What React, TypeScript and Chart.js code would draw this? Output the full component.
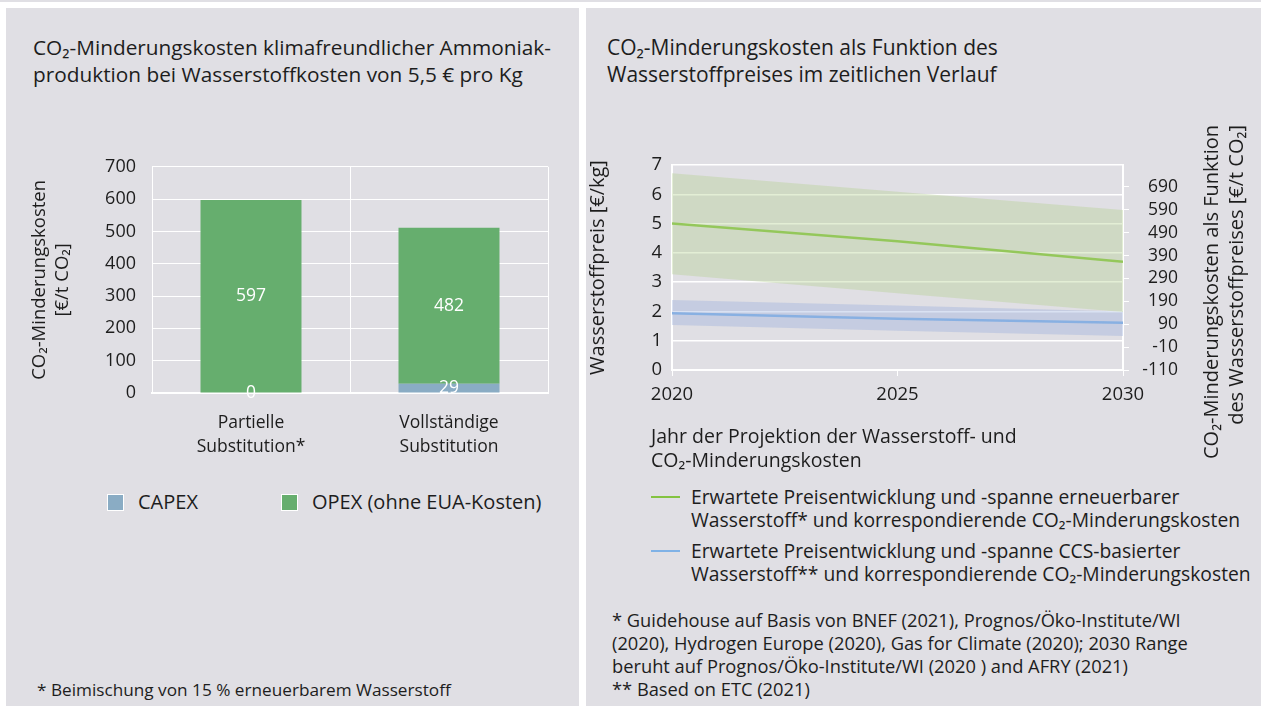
import React, { useEffect, useRef } from "react";
import { Chart, registerables } from "chart.js";

Chart.register(...registerables);

const FONT = "'Open Sans', sans-serif";
const TEXT = "#1d1d1d";
const PANEL = "#e0dfe4";

// ---------- Left chart data ----------
const barCategories = [["Partielle", "Substitution*"], ["Vollständige", "Substitution"]];
const capexValues = [0, 29];
const opexValues = [597, 482];
const barSeriesNames = ["CAPEX", "OPEX (ohne EUA-Kosten)"];
const barColors = ["#8aacc4", "#66ae6e"];
const barAxisTitle = ["CO₂-Minderungskosten", "[€/t CO₂]"];

// ---------- Right chart data ----------
const years = [2020, 2025, 2030];
const greenUpper = [6.72, 6.09, 5.46];
const greenCentral = [5.0, 4.4, 3.7];
const greenLower = [3.27, 2.62, 1.98];
const blueUpper = [2.39, 2.2, 2.0];
const blueCentral = [1.94, 1.75, 1.61];
const blueLower = [1.54, 1.34, 1.16];
const costTicks = [-110, -10, 90, 190, 290, 390, 490, 590, 690];
const costMin = -110;
const costMax = 786;
const lineSeriesNames = [
  ["Erwartete Preisentwicklung und -spanne erneuerbarer", "Wasserstoff* und korrespondierende CO₂-Minderungskosten"],
  ["Erwartete Preisentwicklung und -spanne CCS-basierter", "Wasserstoff** und korrespondierende CO₂-Minderungskosten"],
];
const lineColors = ["#84c341", "#80b2e6"];
const bandColors = ["rgba(178,208,138,0.36)", "rgba(150,172,218,0.36)"];
const priceAxisTitle = "Wasserstoffpreis [€/kg]";
const costAxisTitle = ["CO₂-Minderungskosten als Funktion", "des Wasserstoffpreises [€/t CO₂]"];
const yearAxisTitle = ["Jahr der Projektion der Wasserstoff- und", "CO₂-Minderungskosten"];

const pts = (ys: number[]) => ys.map((y, i) => ({ x: years[i], y }));

function BarChart() {
  const ref = useRef<HTMLCanvasElement>(null);
  useEffect(() => {
    const labelPlugin = {
      id: "barLabels",
      afterDatasetsDraw(chart: any) {
        const ctx = chart.ctx;
        ctx.save();
        ctx.font = `17.5px ${FONT}`;
        ctx.fillStyle = "#ffffff";
        ctx.textAlign = "center";
        ctx.textBaseline = "middle";
        chart.data.datasets.forEach((ds: any, di: number) => {
          const meta = chart.getDatasetMeta(di);
          meta.data.forEach((el: any, i: number) => {
            const p = el.getProps(["x", "y", "base"], true);
            ctx.fillText(String(ds.data[i]), p.x, (p.y + p.base) / 2);
          });
        });
        ctx.restore();
      },
    };
    const chart = new Chart(ref.current as HTMLCanvasElement, {
      type: "bar",
      data: {
        labels: barCategories as any,
        datasets: [
          { label: barSeriesNames[0], data: capexValues, backgroundColor: barColors[0] },
          { label: barSeriesNames[1], data: opexValues, backgroundColor: barColors[1] },
        ],
      },
      options: {
        animation: false,
        responsive: false,
        maintainAspectRatio: false,
        layout: { padding: { top: 22, right: 31, left: 0, bottom: 0 } },
        plugins: { legend: { display: false }, tooltip: { enabled: false } },
        datasets: { bar: { categoryPercentage: 1, barPercentage: 0.51 } } as any,
        scales: {
          x: {
            stacked: true,
            grid: { color: "#ffffff", lineWidth: 1, drawTicks: false, offset: true },
            border: { color: "#ffffff", width: 2 },
            ticks: { font: { family: FONT, size: 17.5, lineHeight: 1.38 }, color: TEXT, padding: 18 },
            afterFit: (s: any) => { s.height = 77; },
          },
          y: {
            stacked: true,
            min: 0,
            max: 700,
            ticks: { stepSize: 100, padding: 16, font: { family: FONT, size: 18 }, color: TEXT },
            grid: { color: "#ffffff", lineWidth: 1, drawTicks: false },
            border: { color: "#ffffff", width: 1 },
            title: {
              display: true,
              text: barAxisTitle,
              font: { family: FONT, size: 18.5, lineHeight: 1.2 },
              color: TEXT,
              padding: { top: 23, bottom: 0 },
            },
            afterFit: (s: any) => { s.width = 146; },
          },
        },
      },
      plugins: [labelPlugin],
    });
    return () => chart.destroy();
  }, []);
  return (
    <canvas ref={ref} width={573} height={330} style={{ position: "absolute", left: 6, top: 140 }} />
  );
}

function LineChart() {
  const ref = useRef<HTMLCanvasElement>(null);
  useEffect(() => {
    const rightTitlePlugin = {
      id: "rightTitle",
      afterDraw(chart: any) {
        const ctx = chart.ctx;
        ctx.save();
        ctx.font = `20px ${FONT}`;
        ctx.fillStyle = TEXT;
        ctx.translate(626, 15);
        ctx.rotate(-Math.PI / 2);
        ctx.textAlign = "right";
        ctx.textBaseline = "middle";
        costAxisTitle.forEach((l, i) => ctx.fillText(l, 0, i * 25));
        ctx.restore();
      },
    };
    const band = (data: number[], color: string, fill: any) => ({
      data: pts(data),
      borderWidth: 0,
      pointRadius: 0,
      backgroundColor: color,
      fill,
      yAxisID: "y",
    });
    const chart = new Chart(ref.current as HTMLCanvasElement, {
      type: "line",
      data: {
        datasets: [
          { label: "green upper", ...band(greenUpper, bandColors[0], "+1") },
          { label: "green lower", ...band(greenLower, bandColors[0], false) },
          { label: "blue upper", ...band(blueUpper, bandColors[1], "+1") },
          { label: "blue lower", ...band(blueLower, bandColors[1], false) },
          {
            label: lineSeriesNames[0].join(" "),
            data: pts(greenCentral),
            borderColor: lineColors[0],
            borderWidth: 2.5,
            pointRadius: 0,
            fill: false,
            yAxisID: "y",
          },
          {
            label: lineSeriesNames[1].join(" "),
            data: pts(blueCentral),
            borderColor: lineColors[1],
            borderWidth: 2.5,
            pointRadius: 0,
            fill: false,
            yAxisID: "y",
          },
        ] as any,
      },
      options: {
        animation: false,
        responsive: false,
        maintainAspectRatio: false,
        layout: { padding: { top: 55, right: 83, left: 0, bottom: 0 } },
        plugins: { legend: { display: false }, tooltip: { enabled: false } },
        scales: {
          x: {
            type: "linear",
            min: 2020,
            max: 2030,
            ticks: {
              stepSize: 5,
              callback: (v: any) => String(v),
              font: { family: FONT, size: 18.5 },
              color: TEXT,
              padding: 8,
            },
            grid: { drawOnChartArea: false, color: "#ffffff", tickLength: 6 },
            border: { color: "#ffffff", width: 2 },
            afterFit: (s: any) => { s.height = 100; },
          },
          y: {
            position: "left",
            min: 0,
            max: 7,
            ticks: { stepSize: 1, padding: 10, font: { family: FONT, size: 18.5 }, color: TEXT },
            grid: { color: "#ffffff", lineWidth: 1.5, drawTicks: false },
            border: { color: "#ffffff", width: 2 },
            title: {
              display: true,
              text: priceAxisTitle,
              font: { family: FONT, size: 20 },
              color: TEXT,
              padding: { top: 0, bottom: 0 },
            },
            afterFit: (s: any) => { s.width = 86; },
          },
          y2: {
            position: "right",
            min: costMin,
            max: costMax,
            afterBuildTicks: (s: any) => { s.ticks = costTicks.map((v) => ({ value: v })); },
            ticks: { padding: 16, crossAlign: "far", font: { family: FONT, size: 17.5 }, color: TEXT },
            grid: { drawOnChartArea: false, color: "#ffffff", tickLength: 6 },
            border: { color: "#ffffff", width: 2 },
            afterFit: (s: any) => { s.width = 55; },
          },
        },
      } as any,
      plugins: [rightTitlePlugin],
    });
    return () => chart.destroy();
  }, []);
  return (
    <canvas ref={ref} width={675} height={360} style={{ position: "absolute", left: 586, top: 110 }} />
  );
}

const abs = (left: number, top: number, extra: any = {}) => ({
  position: "absolute" as const,
  left,
  top,
  whiteSpace: "nowrap" as const,
  ...extra,
});

export default function App() {
  return (
    <div
      style={{
        position: "absolute",
        left: 0,
        top: 0,
        width: 1261,
        height: 706,
        background: "#ffffff",
        overflow: "hidden",
        fontFamily: FONT,
        color: TEXT,
      }}
    >
      <div style={abs(0, 0, { width: 1261, height: 2, background: PANEL })} />
      <div style={abs(6, 8, { width: 573, height: 698, background: PANEL })} />
      <div style={abs(586, 8, { width: 675, height: 698, background: PANEL })} />

      {/* Left panel */}
      <div style={abs(33, 34, { fontSize: 20.8, lineHeight: "27px" })}>
        CO₂-Minderungskosten klimafreundlicher Ammoniak-
        <br />
        produktion bei Wasserstoffkosten von 5,5 € pro Kg
      </div>
      <BarChart />
      {barSeriesNames.map((name, i) => (
        <div key={name} style={abs(i === 0 ? 107 : 281, 490, { display: "flex", alignItems: "center", fontSize: 20, lineHeight: "24px" })}>
          <span
            style={{
              display: "inline-block",
              width: 15,
              height: 15,
              background: barColors[i],
              border: "1px solid #ffffff",
              marginRight: 14,
            }}
          />
          {name}
        </div>
      ))}
      <div style={abs(37, 678, { fontSize: 17.2, lineHeight: "23px" })}>
        * Beimischung von 15 % erneuerbarem Wasserstoff
      </div>

      {/* Right panel */}
      <div style={abs(607, 34, { fontSize: 21, lineHeight: "27px" })}>
        CO₂-Minderungskosten als Funktion des
        <br />
        Wasserstoffpreises im zeitlichen Verlauf
      </div>
      <LineChart />
      <div style={abs(651, 424, { fontSize: 19.5, lineHeight: "24px" })}>
        {yearAxisTitle[0]}
        <br />
        {yearAxisTitle[1]}
      </div>
      {lineSeriesNames.map((lines, i) => (
        <div key={i} style={abs(651, i === 0 ? 485 : 539, { fontSize: 19.3, lineHeight: "23px" })}>
          <span
            style={{
              position: "absolute",
              left: 0,
              top: 11,
              width: 29,
              height: 2,
              background: lineColors[i],
            }}
          />
          <div style={{ marginLeft: 40 }}>
            {lines[0]}
            <br />
            {lines[1]}
          </div>
        </div>
      ))}
      <div style={abs(612, 608, { fontSize: 18.3, lineHeight: "23px" })}>
        * Guidehouse auf Basis von BNEF (2021), Prognos/Öko-Institute/WI
        <br />
        (2020), Hydrogen Europe (2020), Gas for Climate (2020); 2030 Range
        <br />
        beruht auf Prognos/Öko-Institute/WI (2020 ) and AFRY (2021)
        <br />
        ** Based on ETC (2021)
      </div>
    </div>
  );
}
